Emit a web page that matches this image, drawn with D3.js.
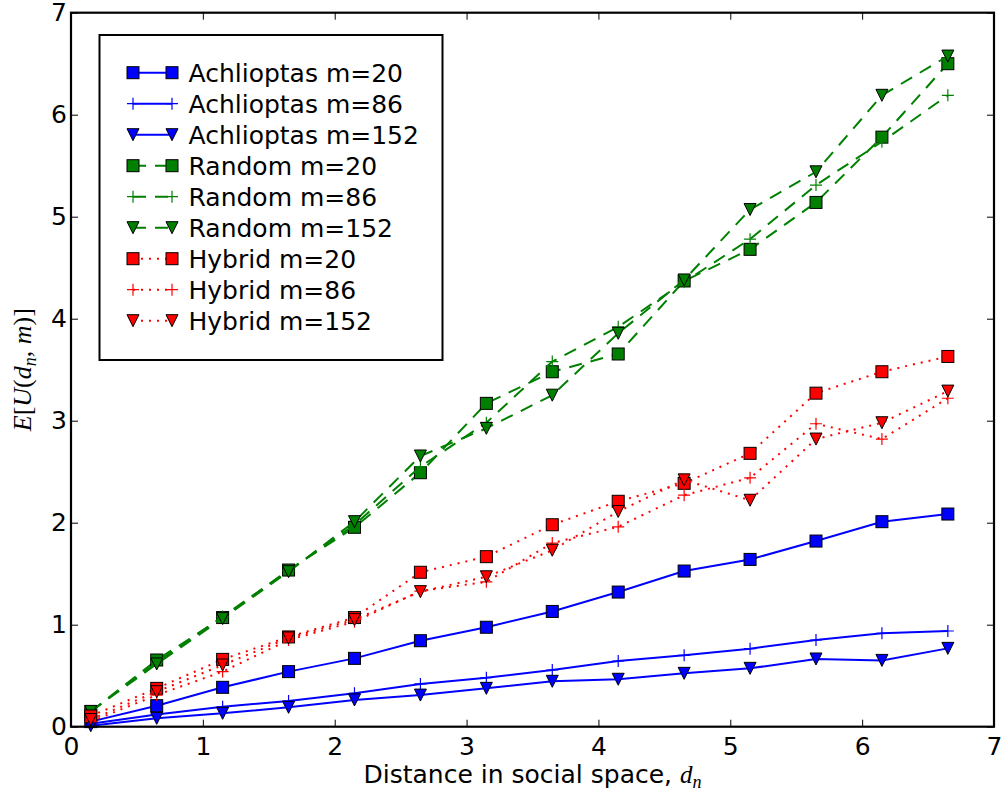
<!DOCTYPE html>
<html>
<head>
<meta charset="utf-8">
<script src="https://cdn.jsdelivr.net/npm/d3@7"></script>
<style>
  body { margin: 0; background: #fff; }
  svg { display: block; font-family: "DejaVu Sans", sans-serif; }
  .tick text { font-size: 25px; fill: #000; font-family: "DejaVu Sans", sans-serif; }
  .tick line { stroke: #000; stroke-width: 1; }
  .math { font-family: "Liberation Serif", "DejaVu Serif", serif; }
</style>
</head>
<body>
<div id="chart"></div>
<script>
// E[U(d_n, m)] vs distance in social space, 9 series (3 methods x 3 values of m)

const distances = [0.15, 0.65, 1.15, 1.65, 2.15, 2.65, 3.15, 3.65, 4.15, 4.65, 5.15, 5.65, 6.15, 6.65];

const achlioptas20  = [0.05, 0.206, 0.386, 0.54, 0.67, 0.843, 0.975, 1.13, 1.32, 1.526, 1.64, 1.82, 2.01, 2.085];
const achlioptas86  = [0.03, 0.12, 0.195, 0.252, 0.327, 0.419, 0.48, 0.556, 0.644, 0.70, 0.765, 0.85, 0.915, 0.938];
const achlioptas152 = [0.01, 0.082, 0.131, 0.19, 0.262, 0.31, 0.376, 0.445, 0.465, 0.523, 0.572, 0.664, 0.65, 0.768];

const random20  = [0.147, 0.654, 1.07, 1.536, 1.955, 2.49, 3.17, 3.48, 3.654, 4.37, 4.68, 5.14, 5.78, 6.50];
const random86  = [0.15, 0.63, 1.08, 1.53, 1.98, 2.55, 2.98, 3.58, 3.92, 4.36, 4.78, 5.31, 5.735, 6.19];
const random152 = [0.15, 0.615, 1.06, 1.52, 2.01, 2.654, 2.925, 3.25, 3.857, 4.38, 5.07, 5.44, 6.19, 6.575];

const hybrid20  = [0.105, 0.376, 0.66, 0.88, 1.07, 1.514, 1.667, 1.98, 2.21, 2.386, 2.68, 3.27, 3.48, 3.63];
const hybrid86  = [0.05, 0.31, 0.54, 0.85, 1.03, 1.33, 1.42, 1.80, 1.96, 2.27, 2.44, 2.97, 2.82, 3.22];
const hybrid152 = [0.07, 0.343, 0.605, 0.87, 1.05, 1.324, 1.47, 1.73, 2.11, 2.42, 2.22, 2.82, 2.98, 3.29];

const xTicks = [0, 1, 2, 3, 4, 5, 6, 7];
const yTicks = [0, 1, 2, 3, 4, 5, 6, 7];

const series = [
  { name: "Achlioptas m=20",  values: achlioptas20,  color: "#0000ff", dash: null,   marker: "square" },
  { name: "Achlioptas m=86",  values: achlioptas86,  color: "#0000ff", dash: null,   marker: "plus" },
  { name: "Achlioptas m=152", values: achlioptas152, color: "#0000ff", dash: null,   marker: "tri" },
  { name: "Random m=20",      values: random20,      color: "#008000", dash: "13,9", marker: "square" },
  { name: "Random m=86",      values: random86,      color: "#008000", dash: "13,9", marker: "plus" },
  { name: "Random m=152",     values: random152,     color: "#008000", dash: "13,9", marker: "tri" },
  { name: "Hybrid m=20",      values: hybrid20,      color: "#ff0000", dash: "2,6",  marker: "square" },
  { name: "Hybrid m=86",      values: hybrid86,      color: "#ff0000", dash: "2,6",  marker: "plus" },
  { name: "Hybrid m=152",     values: hybrid152,     color: "#ff0000", dash: "2,6",  marker: "tri" }
];

const W = 1008, H = 796;
const margin = { top: 12.7, right: 14, bottom: 69.3, left: 71 };
const plotW = W - margin.left - margin.right;
const plotH = H - margin.top - margin.bottom;

const svg = d3.select("#chart").append("svg")
  .attr("width", W)
  .attr("height", H);

const plot = svg.append("g")
  .attr("transform", `translate(${margin.left},${margin.top})`);

// SCALES
const xScale = d3.scaleLinear().domain([0, 7]).range([0, plotW]);
const yScale = d3.scaleLinear().domain([0, 7]).range([plotH, 0]);

// AXES (ticks point inwards, on all four sides)
const xAxis = plot.append("g")
  .attr("transform", `translate(0,${plotH})`)
  .call(d3.axisBottom(xScale).tickValues(xTicks).tickFormat(d3.format("d"))
    .tickSizeInner(-7).tickSizeOuter(0).tickPadding(10.5));
const yAxis = plot.append("g")
  .call(d3.axisLeft(yScale).tickValues(yTicks).tickFormat(d3.format("d"))
    .tickSizeInner(-7).tickSizeOuter(0).tickPadding(4));
const xTop = plot.append("g")
  .call(d3.axisTop(xScale).tickValues(xTicks).tickFormat("")
    .tickSizeInner(-7).tickSizeOuter(0));
const yRight = plot.append("g")
  .attr("transform", `translate(${plotW},0)`)
  .call(d3.axisRight(yScale).tickValues(yTicks).tickFormat("")
    .tickSizeInner(-7).tickSizeOuter(0));
[xAxis, yAxis, xTop, yRight].forEach(a => a.select(".domain").remove());

// MARKERS
function drawMarker(g, type, color) {
  const s = 6;
  if (type === "square") {
    g.append("rect")
      .attr("x", -s).attr("y", -s).attr("width", 2 * s).attr("height", 2 * s)
      .attr("fill", color).attr("stroke", "#000").attr("stroke-width", 1);
  } else if (type === "tri") {
    g.append("path")
      .attr("d", `M${-s},${-s}L${s},${-s}L0,${s}Z`)
      .attr("fill", color).attr("stroke", "#000").attr("stroke-width", 1);
  } else {
    g.append("path")
      .attr("d", `M${-s},0H${s}M0,${-s}V${s}`)
      .attr("fill", "none").attr("stroke", color).attr("stroke-width", 1.2);
  }
}

// LINES
const lineGen = d3.line()
  .x((d, i) => xScale(distances[i]))
  .y(d => yScale(d));

series.forEach(s => {
  plot.append("path")
    .datum(s.values)
    .attr("d", lineGen)
    .attr("fill", "none")
    .attr("stroke", s.color)
    .attr("stroke-width", 2)
    .attr("stroke-dasharray", s.dash);

  s.values.forEach((v, i) => {
    const g = plot.append("g")
      .attr("transform", `translate(${xScale(distances[i])},${yScale(v)})`);
    drawMarker(g, s.marker, s.color);
  });
});

// FRAME
plot.append("rect")
  .attr("width", plotW).attr("height", plotH)
  .attr("fill", "none").attr("stroke", "#000").attr("stroke-width", 2.2);

// LEGEND
const legend = svg.append("g").attr("transform", "translate(99.5,35)");
legend.append("rect")
  .attr("width", 343).attr("height", 325)
  .attr("fill", "#fff").attr("stroke", "#000").attr("stroke-width", 2);

const rowY0 = 37.7, rowStep = 31;
series.forEach((s, i) => {
  const y = rowY0 + i * rowStep;
  legend.append("line")
    .attr("x1", 33.5).attr("x2", 72.5).attr("y1", y).attr("y2", y)
    .attr("stroke", s.color).attr("stroke-width", 2)
    .attr("stroke-dasharray", s.dash);
  [33.5, 72.5].forEach(mx => {
    drawMarker(legend.append("g").attr("transform", `translate(${mx},${y})`), s.marker, s.color);
  });
  legend.append("text")
    .attr("x", 89).attr("y", y + 9)
    .style("font-size", "25px")
    .text(s.name);
});

// AXIS LABELS
const xLabel = svg.append("text")
  .attr("x", margin.left + plotW / 2)
  .attr("y", 783)
  .attr("text-anchor", "middle")
  .style("font-size", "25px");
xLabel.append("tspan").text("Distance in social space, ");
xLabel.append("tspan").attr("class", "math").style("font-style", "italic").text("d");
xLabel.append("tspan").attr("class", "math").style("font-style", "italic")
  .style("font-size", "18px").attr("dy", 5).text("n");

const yLabel = svg.append("text")
  .attr("class", "math")
  .attr("transform", `translate(31,${margin.top + plotH / 2}) rotate(-90)`)
  .attr("text-anchor", "middle")
  .style("font-size", "26px");
const parts = [
  { t: "E", it: true }, { t: "[", it: false }, { t: "U", it: true }, { t: "(", it: false },
  { t: "d", it: true }, { t: "n", it: true, sub: true }, { t: ", ", it: false, unsub: true },
  { t: "m", it: true }, { t: ")]", it: false }
];
parts.forEach(p => {
  const ts = yLabel.append("tspan").text(p.t)
    .style("font-style", p.it ? "italic" : "normal");
  if (p.sub) ts.attr("dy", 5).style("font-size", "18px");
  if (p.unsub) ts.attr("dy", -5);
});
</script>
</body>
</html>
